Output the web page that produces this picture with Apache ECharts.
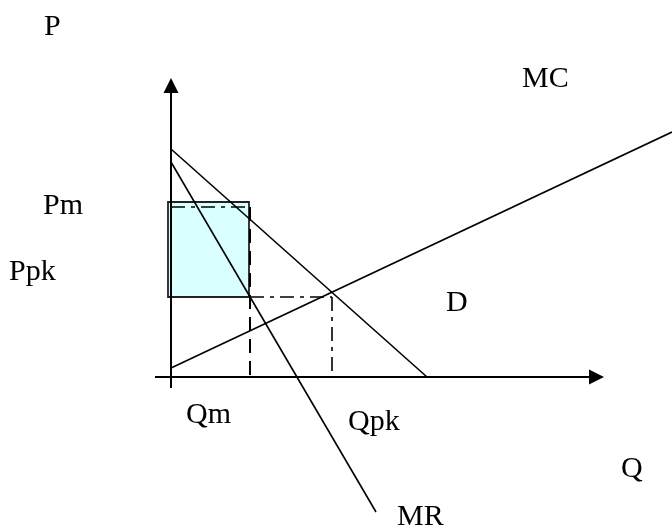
<!DOCTYPE html>
<html>
<head>
<meta charset="utf-8">
<title>Peak load pricing</title>
<script src="https://cdn.jsdelivr.net/npm/echarts@6/dist/echarts.min.js"></script>
<style>
  html, body { margin: 0; padding: 0; background: #fff; }
  #main { width: 672px; height: 526px; }
</style>
</head>
<body>
<div id="main"></div>
<script>
// diagram units: 1 unit = 10 px, origin where the axes cross
var pAxis = [[0, -1.1], [0, 29.15]];      // vertical axis (P)
var qAxis = [[-1.6, 0], [42.55, 0]];      // horizontal axis (Q)
var demand = [[0, 22.8], [25.6, 0]];      // D
var mr = [[0, 21.5], [20.5, -13.5]];      // MR
var mc = [[0, 0.9], [50.1, 24.5]];        // MC

var qm = 7.9, qpk = 16.1;                 // quantities
var pm = 17.0, ppk = 8.0;                 // prices
var boxX = [-0.3, 7.8], boxY = [17.5, 8.0]; // shaded surplus box

// text labels [text, x px, baseline px]
var labels = [
    ['P', 44, 35], ['MC', 522, 87], ['Pm', 43, 214], ['Ppk', 9, 280],
    ['D', 446, 311], ['Qm', 186, 423], ['Qpk', 348, 430],
    ['Q', 621, 477], ['MR', 397, 525]
];

var dashDot = [14, 6, 4, 6];
var dashed = [14, 8];

function seg(pts, type, width) {
    return {
        coords: pts,
        lineStyle: { color: '#000', width: width || 1.6, type: type || 'solid', opacity: 1 }
    };
}

var chart = echarts.init(document.getElementById('main'));
var option = {
    backgroundColor: '#fff',
    animation: false,
    grid: { left: 0, right: 0, top: 0, bottom: 0 },
    xAxis: { type: 'value', min: -17.1, max: 50.1, show: false },
    yAxis: { type: 'value', min: -14.9, max: 37.7, show: false },
    graphic: labels.map(function (l) {
        return {
            type: 'text',
            x: l[1],
            y: l[2] - 8,
            style: {
                text: l[0],
                font: '30px "Liberation Serif"',
                fill: '#000',
                verticalAlign: 'middle'
            }
        };
    }),
    series: [
        {
            // shaded rectangle
            type: 'line',
            data: [],
            markArea: {
                silent: true,
                itemStyle: { color: '#d9ffff', borderColor: '#222', borderWidth: 1.8 },
                data: [[{ coord: [boxX[0], boxY[0]] }, { coord: [boxX[1], boxY[1]] }]]
            }
        },
        {
            type: 'lines',
            coordinateSystem: 'cartesian2d',
            symbol: 'none',
            z: 3,
            data: [
                seg(demand), seg(mr), seg(mc),
                seg([[0, pm], [qm, pm]], dashDot),
                seg([[qm, pm], [qm, 0]], dashed, 2),
                seg([[qm, ppk], [qpk, ppk]], dashDot),
                seg([[qpk, ppk], [qpk, 0]], dashDot)
            ]
        },
        {
            type: 'lines',
            coordinateSystem: 'cartesian2d',
            symbol: ['none', 'triangle'],
            symbolSize: 15,
            z: 4,
            lineStyle: { color: '#000', width: 2, opacity: 1 },
            itemStyle: { color: '#000', opacity: 1 },
            data: [{ coords: pAxis }, { coords: qAxis }]
        }
    ]
};
chart.setOption(option);
</script>
</body>
</html>
